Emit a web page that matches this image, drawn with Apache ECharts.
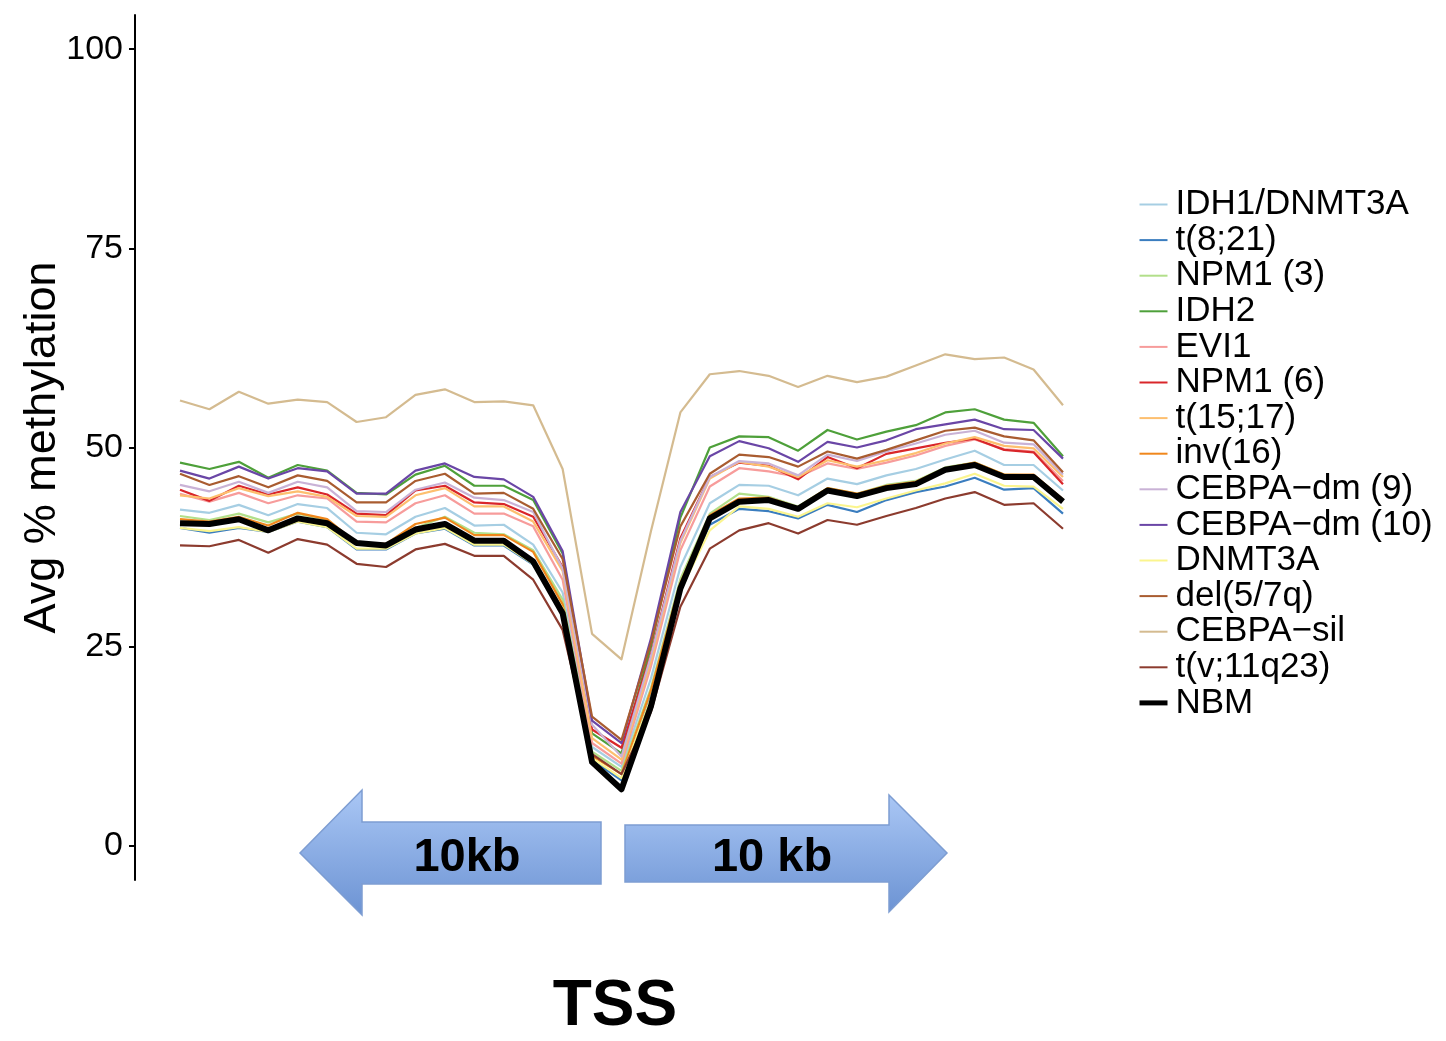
<!DOCTYPE html>
<html>
<head>
<meta charset="utf-8">
<script src="https://cdn.jsdelivr.net/npm/echarts@6/dist/echarts.min.js"></script>
<style>
  html, body { margin: 0; padding: 0; background: #ffffff; }
  #chart { width: 1446px; height: 1041px; }
</style>
</head>
<body>
<div id="chart"></div>
<script>
// Bins around the transcription start site (bin 0 = TSS)
const bins = [-15,-14,-13,-12,-11,-10,-9,-8,-7,-6,-5,-4,-3,-2,-1,0,1,2,3,4,5,6,7,8,9,10,11,12,13,14,15];
const yTicks = [0, 25, 50, 75, 100];

// Average % methylation per bin, one array per group
const IDH1_DNMT3A = [42.2,41.8,42.8,41.5,42.9,42.4,39.3,39.1,41.3,42.4,40.2,40.3,37.8,31.8,12.4,9.9,21.0,35.0,43.0,45.3,45.2,44.0,46.1,45.4,46.5,47.3,48.5,49.6,47.8,47.8,44.6];
const T8_21       = [39.9,39.3,39.9,39.4,40.7,40.0,37.2,37.2,39.2,39.8,37.7,37.7,35.3,29.6,10.8,8.2,18.8,32.3,40.3,42.3,42.0,41.1,42.8,41.9,43.4,44.4,45.1,46.2,44.7,44.9,41.7];
const NPM1_3      = [41.4,40.9,41.7,40.6,41.7,40.9,38.0,37.8,39.9,41.3,39.3,39.1,37.1,30.9,11.8,9.4,19.8,33.5,41.7,44.2,43.8,42.6,44.9,44.2,45.3,45.8,47.5,48.1,46.6,46.5,43.4];
const IDH2        = [48.1,47.3,48.2,46.2,47.8,47.1,44.3,44.1,46.6,47.7,45.2,45.2,43.4,36.7,14.1,11.6,25.0,41.2,50.0,51.4,51.3,49.6,52.2,51.0,52.0,52.8,54.4,54.8,53.5,53.1,48.9];
const EVI1        = [44.2,43.2,44.3,43.0,44.0,43.6,40.7,40.6,43.0,44.0,41.7,41.7,40.1,33.4,12.9,10.3,22.5,37.1,45.1,47.4,47.0,46.3,48.0,47.3,48.1,49.0,50.2,51.0,49.8,49.5,45.8];
const NPM1_6      = [44.7,43.3,45.2,44.1,45.0,44.1,41.7,41.5,44.6,45.2,43.1,42.9,41.3,35.0,14.6,12.3,24.0,38.6,46.3,48.1,47.7,46.0,48.8,47.4,49.2,49.9,50.6,51.1,49.7,49.4,45.4];
const T15_17      = [44.0,43.6,44.9,43.9,44.5,43.8,41.4,41.3,44.0,44.9,42.6,42.6,40.7,34.5,13.5,10.8,23.2,38.0,46.1,48.2,47.6,46.3,48.4,47.6,48.4,49.3,50.5,51.3,50.2,49.9,46.3];
const INV16       = [41.0,40.7,41.3,40.2,41.8,41.0,38.0,37.9,40.4,41.2,39.0,39.0,36.9,30.3,11.3,9.0,19.5,33.0,41.5,43.6,43.7,42.5,44.9,44.2,45.2,45.7,47.4,48.1,46.6,46.6,43.5];
const CEBPA_DM9   = [45.3,44.5,45.7,44.3,45.7,45.0,42.0,41.9,44.7,45.6,43.7,43.4,41.9,34.8,15.2,11.2,23.8,38.3,46.3,48.3,48.0,46.5,49.1,48.3,49.5,50.5,51.6,52.1,50.6,50.4,46.6];
const CEBPA_DM10  = [47.1,46.1,47.6,46.1,47.4,47.0,44.2,44.2,47.1,48.0,46.3,46.0,43.8,37.0,15.7,12.9,26.0,41.9,48.9,50.8,49.9,48.2,50.7,50.0,50.9,52.3,52.9,53.5,52.3,52.2,48.6];
const DNMT3A      = [39.9,39.5,40.0,39.4,40.7,40.0,37.3,37.3,39.2,39.9,37.8,37.8,35.4,29.8,11.0,8.5,18.5,32.0,39.6,42.6,42.3,41.3,43.0,42.5,43.6,44.6,45.5,46.7,45.2,45.1,42.3];
const DEL5_7Q     = [46.7,45.3,46.4,45.0,46.5,45.8,43.1,43.1,45.8,46.7,44.2,44.3,42.3,36.0,16.2,13.3,25.5,40.1,46.7,49.1,48.8,47.6,49.5,48.6,49.7,50.9,52.1,52.5,51.4,50.9,46.9];
const CEBPA_SIL   = [55.9,54.8,57.0,55.5,56.0,55.7,53.2,53.8,56.6,57.3,55.7,55.8,55.3,47.3,26.6,23.4,39.5,54.4,59.2,59.6,59.0,57.6,59.0,58.2,58.9,60.3,61.7,61.1,61.3,59.8,55.3];
const TV_11Q23    = [37.7,37.6,38.4,36.8,38.5,37.8,35.4,35.0,37.2,37.9,36.4,36.4,33.4,27.1,11.5,9.0,16.8,30.0,37.3,39.6,40.5,39.2,40.9,40.3,41.4,42.4,43.6,44.4,42.8,43.0,39.8];
const NBM         = [40.5,40.4,41.0,39.6,41.1,40.5,38.0,37.7,39.7,40.4,38.3,38.3,35.7,29.2,10.5,7.1,17.5,32.3,41.1,43.2,43.4,42.3,44.6,43.9,44.9,45.4,47.2,47.8,46.3,46.3,43.2];

const groupNames = ['IDH1/DNMT3A','t(8;21)','NPM1 (3)','IDH2','EVI1','NPM1 (6)','t(15;17)','inv(16)',
                    'CEBPA\u2212dm (9)','CEBPA\u2212dm (10)','DNMT3A','del(5/7q)','CEBPA\u2212sil','t(v;11q23)','NBM'];
const groupValues = [IDH1_DNMT3A, T8_21, NPM1_3, IDH2, EVI1, NPM1_6, T15_17, INV16,
                     CEBPA_DM9, CEBPA_DM10, DNMT3A, DEL5_7Q, CEBPA_SIL, TV_11Q23, NBM];
const groupColors = ['#a6cee3','#3a7dbf','#b2df8a','#4ea03a','#f79c9b','#d9262a','#fdbf6f','#f0871c',
                     '#c9b2d6','#6a46a6','#fbf58e','#a95c30','#d4bb90','#8c3b2e','#000000'];

const FONT = '"Liberation Sans", Arial, Helvetica, sans-serif';
const chart = echarts.init(document.getElementById('chart'), null, { renderer: 'canvas' });

const isRef = (name) => name === 'NBM';

const series = groupNames.map((name, k) => ({
  name: name,
  type: 'line',
  data: groupValues[k],
  symbol: 'none',
  smooth: false,
  lineStyle: { color: groupColors[k], width: isRef(name) ? 6 : 2.2, join: 'round' },
  itemStyle: { color: groupColors[k] },
  emphasis: { disabled: true },
  z: isRef(name) ? 3 : 2
}));

// Legend entries: thin keys for the groups, a heavy key for the reference
const legendData = groupNames.map((name, k) => ({
  name: name,
  lineStyle: { color: groupColors[k], width: isRef(name) ? 5 : 2 }
}));

// Blue block arrows either side of the TSS
const arrowFill = {
  type: 'linear', x: 0, y: 0, x2: 0, y2: 1,
  colorStops: [{ offset: 0, color: '#aac7f5' }, { offset: 1, color: '#6c93d3' }]
};

chart.setOption({
  animation: false,
  backgroundColor: '#ffffff',
  grid: { left: 180, right: 383, top: 15, bottom: 161, containLabel: false },
  xAxis: {
    type: 'category',
    data: bins,
    boundaryGap: false,
    show: false
  },
  yAxis: {
    type: 'value',
    min: -4.3,
    max: 104.3,
    offset: 45,
    name: 'Avg % methylation',
    nameLocation: 'middle',
    nameRotate: 90,
    nameGap: 70,
    nameMoveOverlap: false,
    nameTextStyle: { fontFamily: FONT, fontSize: 45, color: '#000' },
    axisLine: { show: true, lineStyle: { color: '#000', width: 2 } },
    axisTick: { show: true, length: 6, customValues: yTicks, lineStyle: { color: '#000', width: 2 } },
    axisLabel: { customValues: yTicks, margin: 12, fontFamily: FONT, fontSize: 34, color: '#000' },
    splitLine: { show: false }
  },
  legend: {
    orient: 'vertical',
    left: 1132,
    top: 182,
    itemWidth: 28,
    itemHeight: 14,
    itemGap: 0.6,
    data: legendData,
    selectedMode: false,
    itemStyle: { opacity: 0 },
    textStyle: { fontFamily: FONT, fontSize: 35, lineHeight: 32, color: '#000', padding: [0, 0, 0, 3] }
  },
  series: series,
  graphic: [
    {
      type: 'polygon', z: 10,
      shape: { points: [[300, 853], [362, 790], [362, 822], [601, 822], [601, 884], [362, 884], [362, 915]] },
      style: { fill: arrowFill, stroke: '#7d9dd2', lineWidth: 1.5 }
    },
    {
      type: 'polygon', z: 10,
      shape: { points: [[625, 825], [889, 825], [889, 795], [947, 853], [889, 912], [889, 882], [625, 882]] },
      style: { fill: arrowFill, stroke: '#7d9dd2', lineWidth: 1.5 }
    },
    {
      type: 'text', z: 11, x: 467, y: 858,
      style: { text: '10kb', fill: '#000', fontFamily: FONT, fontWeight: 'bold', fontSize: 47, align: 'center', verticalAlign: 'middle' }
    },
    {
      type: 'text', z: 11, x: 772, y: 858,
      style: { text: '10 kb', fill: '#000', fontFamily: FONT, fontWeight: 'bold', fontSize: 47, align: 'center', verticalAlign: 'middle' }
    },
    {
      type: 'text', z: 11, x: 615, y: 1007,
      style: { text: 'TSS', fill: '#000', fontFamily: FONT, fontWeight: 'bold', fontSize: 64, align: 'center', verticalAlign: 'middle' }
    }
  ]
});
</script>
</body>
</html>
